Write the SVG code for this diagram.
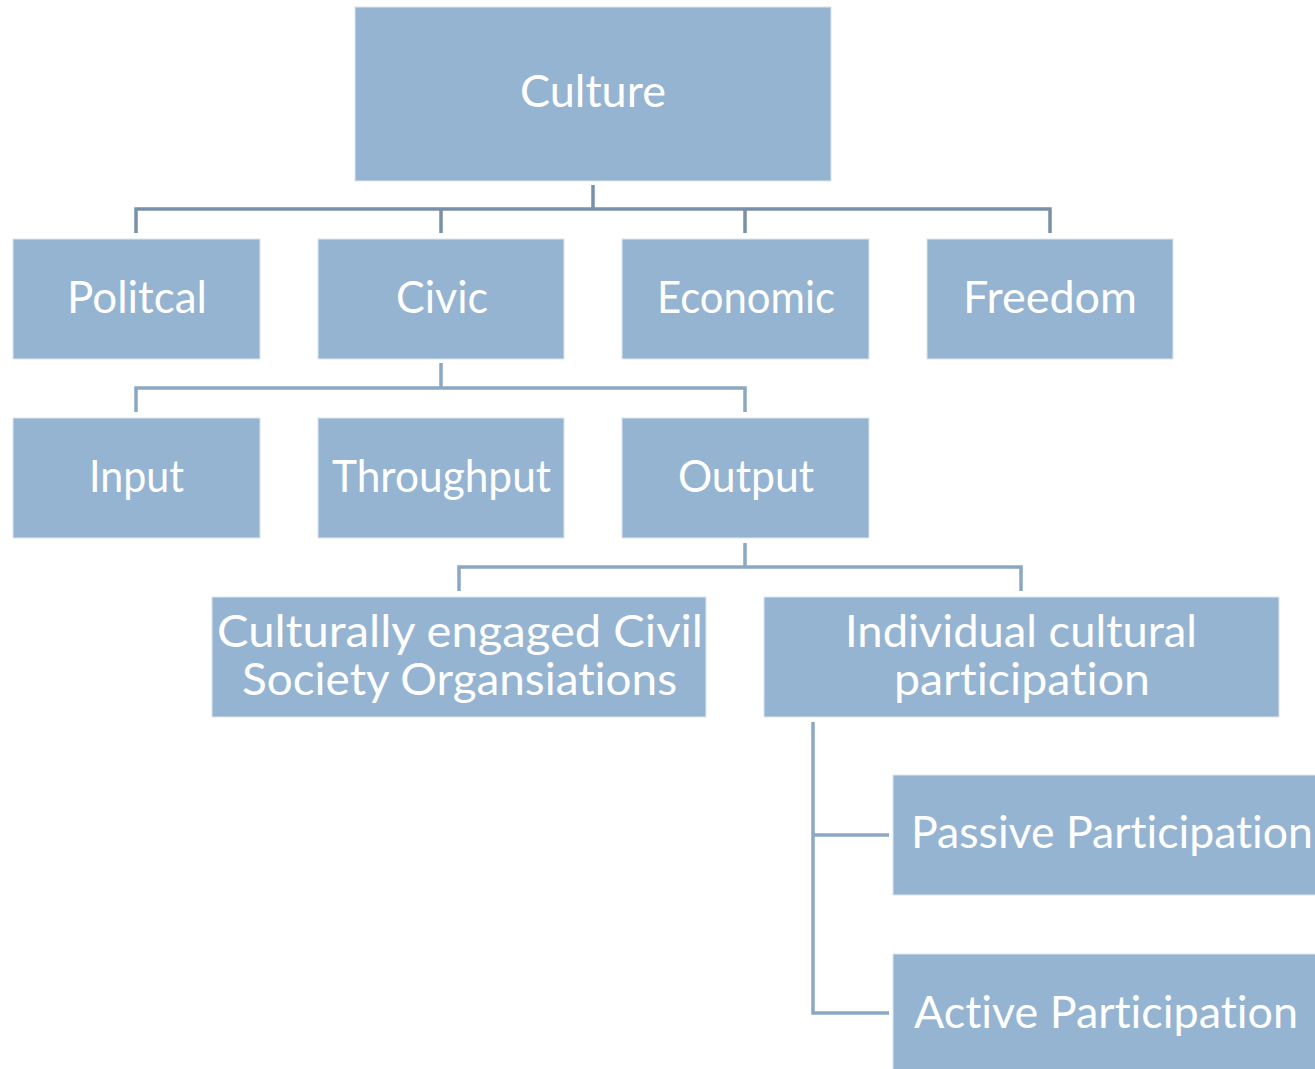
<svg xmlns="http://www.w3.org/2000/svg" width="1315" height="1069" viewBox="0 0 1315 1069">
<style>
.box{fill:#95b4d2;stroke:#dce6f0;stroke-width:1}
.t{fill:#ffffff;font-family:Lato,"Open Sans","Liberation Sans",sans-serif;font-size:44px;text-anchor:middle;font-variant-ligatures:none;font-feature-settings:"liga" 0,"clig" 0}
.c1{fill:none;stroke:#7891a9;stroke-width:3.5}
.c2{fill:none;stroke:#8aa8c4;stroke-width:3.5}
</style>
<rect width="1315" height="1069" fill="#ffffff"/>
<g id="connectors">
<path class="c1" d="M593 185V209M136 233V209H1050V233M441 209V233M745 209V233"/>
<path class="c2" d="M441 363V388M136 412V388H745V412"/>
<path class="c2" d="M745 543V567M459 591V567H1021V591"/>
<path class="c2" d="M813 722V1013H889M813 835H889"/>
</g>
<g id="culture"><rect class="box" x="355" y="7" width="476" height="174"/><text class="t" x="593" y="107" textLength="146" lengthAdjust="spacingAndGlyphs">Culture</text></g>
<g id="politcal"><rect class="box" x="13" y="239" width="247" height="120"/><text class="t" x="137" y="313" textLength="140" lengthAdjust="spacingAndGlyphs">Politcal</text></g>
<g id="civic"><rect class="box" x="318" y="239" width="246" height="120"/><text class="t" x="442" y="313" textLength="92" lengthAdjust="spacingAndGlyphs">Civic</text></g>
<g id="economic"><rect class="box" x="622" y="239" width="247" height="120"/><text class="t" x="746" y="313" textLength="178" lengthAdjust="spacingAndGlyphs">Economic</text></g>
<g id="freedom"><rect class="box" x="927" y="239" width="246" height="120"/><text class="t" x="1050" y="313" textLength="174" lengthAdjust="spacingAndGlyphs">Freedom</text></g>
<g id="input"><rect class="box" x="13" y="418" width="247" height="120"/><text class="t" x="136.5" y="492" textLength="95" lengthAdjust="spacingAndGlyphs">Input</text></g>
<g id="throughput"><rect class="box" x="318" y="418" width="246" height="120"/><text class="t" x="441.5" y="492" textLength="219" lengthAdjust="spacingAndGlyphs">Throughput</text></g>
<g id="output"><rect class="box" x="622" y="418" width="247" height="120"/><text class="t" x="746" y="492" textLength="136" lengthAdjust="spacingAndGlyphs">Output</text></g>
<g id="cso"><rect class="box" x="212" y="597" width="494" height="120"/><text class="t" x="460" y="647" textLength="486" lengthAdjust="spacingAndGlyphs">Culturally engaged Civil</text><text class="t" x="459.5" y="695" textLength="435" lengthAdjust="spacingAndGlyphs">Society Organsiations</text></g>
<g id="individual"><rect class="box" x="764" y="597" width="515" height="120"/><text class="t" x="1021" y="647" textLength="352" lengthAdjust="spacingAndGlyphs">Individual cultural</text><text class="t" x="1022" y="695" textLength="256" lengthAdjust="spacingAndGlyphs">participation</text></g>
<g id="passive"><rect class="box" x="893" y="775" width="440" height="120"/><text class="t" x="1112" y="848" textLength="402" lengthAdjust="spacingAndGlyphs">Passive Participation</text></g>
<g id="active"><rect class="box" x="893" y="954" width="440" height="120"/><text class="t" x="1106" y="1028" textLength="384" lengthAdjust="spacingAndGlyphs">Active Participation</text></g>
</svg>
